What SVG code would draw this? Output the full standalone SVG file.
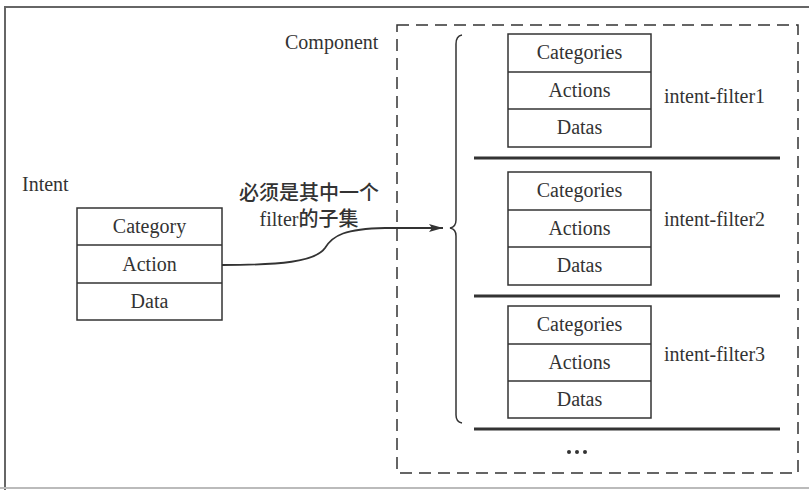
<svg xmlns="http://www.w3.org/2000/svg" width="809" height="490" viewBox="0 0 809 490">
<style>
text{font-family:"Liberation Serif","Noto Sans CJK SC",serif;font-size:20px;fill:#333;}
.c{text-anchor:middle;}
.box{fill:none;stroke:#333;stroke-width:1.5;}
.sep{stroke:#333;stroke-width:3;}
.conn{fill:none;stroke:#333;stroke-width:1.8;}
</style>
<defs>
<marker id="ah" markerWidth="14" markerHeight="8" refX="14" refY="4" orient="auto" markerUnits="userSpaceOnUse">
<path d="M0,0 L14,4 L0,8 L3,4 Z" fill="#333"/>
</marker>
</defs>
<rect width="809" height="490" fill="#fff"/>
<g id="frame">
<path d="M5,490 L5,7 L809,7" fill="none" stroke="#666" stroke-width="2"/>
<line x1="0" y1="488" x2="809" y2="488" stroke="#bbb" stroke-width="2"/>
</g>
<g id="component">
<rect x="397" y="25" width="401" height="448" fill="none" stroke="#333" stroke-width="1.5" stroke-dasharray="12,7"/>
<text x="285" y="49">Component</text>
<path d="M462,35 Q456,36 456,44 L456,220 Q456,227 450,228 Q456,229 456,236 L456,415 Q456,422 462,423" fill="none" stroke="#333" stroke-width="1.5"/>
</g>
<g id="filter1">
<rect class="box" x="508" y="34" width="143" height="113"/>
<line class="box" x1="508" y1="72" x2="651" y2="72"/>
<line class="box" x1="508" y1="109" x2="651" y2="109"/>
<text class="c" x="579.5" y="59">Categories</text>
<text class="c" x="579.5" y="97">Actions</text>
<text class="c" x="579.5" y="134">Datas</text>
<text x="664" y="103">intent-filter1</text>
</g>
<line class="sep" x1="474" y1="158" x2="780" y2="158"/>
<g id="filter2">
<rect class="box" x="508" y="172" width="143" height="113"/>
<line class="box" x1="508" y1="210" x2="651" y2="210"/>
<line class="box" x1="508" y1="247" x2="651" y2="247"/>
<text class="c" x="579.5" y="197">Categories</text>
<text class="c" x="579.5" y="235">Actions</text>
<text class="c" x="579.5" y="272">Datas</text>
<text x="664" y="226">intent-filter2</text>
</g>
<line class="sep" x1="474" y1="296" x2="780" y2="296"/>
<g id="filter3">
<rect class="box" x="508" y="306" width="143" height="112"/>
<line class="box" x1="508" y1="344" x2="651" y2="344"/>
<line class="box" x1="508" y1="381" x2="651" y2="381"/>
<text class="c" x="579.5" y="331">Categories</text>
<text class="c" x="579.5" y="369">Actions</text>
<text class="c" x="579.5" y="406">Datas</text>
<text x="664" y="361">intent-filter3</text>
</g>
<line class="sep" x1="474" y1="429" x2="780" y2="429"/>
<g id="more">
<circle cx="569" cy="452" r="2" fill="#333"/>
<circle cx="577" cy="452" r="2" fill="#333"/>
<circle cx="585" cy="452" r="2" fill="#333"/>
</g>
<g id="intent">
<text x="22" y="191">Intent</text>
<rect class="box" x="77" y="208" width="145" height="112"/>
<line class="box" x1="77" y1="245" x2="222" y2="245"/>
<line class="box" x1="77" y1="283" x2="222" y2="283"/>
<text class="c" x="149.5" y="233">Category</text>
<text class="c" x="149.5" y="271">Action</text>
<text class="c" x="149.5" y="308">Data</text>
</g>
<g id="connectors">
<path class="conn" d="M222,265 C280,265 315,262 325,248 C333,235 345,229 385,228 L443,228" marker-end="url(#ah)"/>
<text class="c" x="309" y="200" font-weight="500">必须是其中一个</text>
<text class="c" x="309" y="226" font-weight="500">filter的子集</text>
</g>
</svg>
